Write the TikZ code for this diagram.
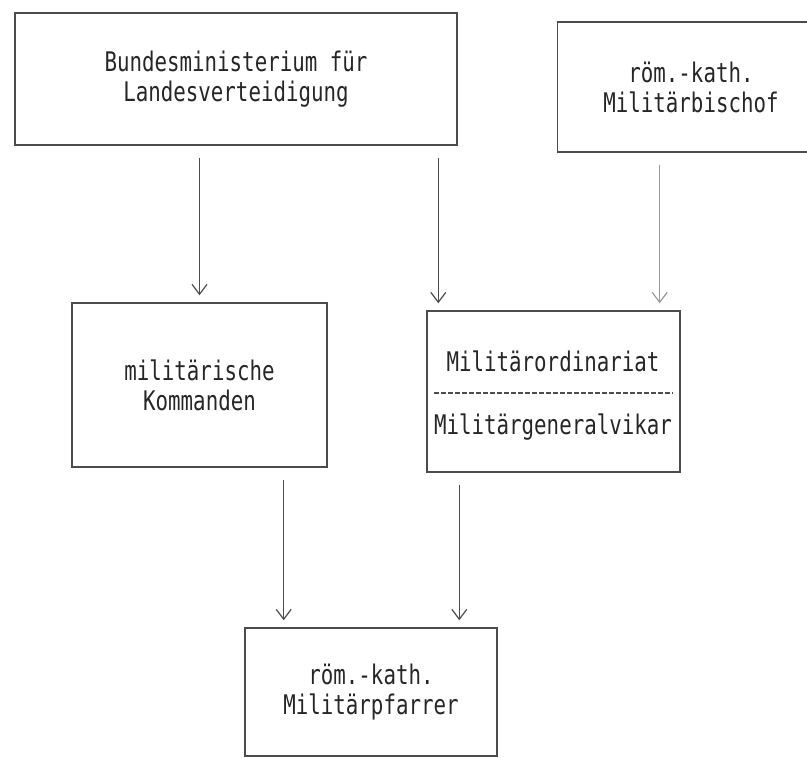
\documentclass[tikz,border=0pt]{standalone}
\usepackage{fontspec}
\setmonofont[FakeStretch=0.77]{DejaVu Sans Mono}
\usetikzlibrary{arrows.meta}

\tikzset{
    kasten/.style={draw=black!70, line width=1.4pt, rectangle, inner sep=0pt,
        align=center, font=\ttfamily\fontsize{27}{30}\selectfont, text=black!85},
    pfeil/.style={draw=black!70, line width=1.3pt,
        -{Straight Barb[length=10pt,width=15pt,line width=1.2pt]},
        shorten <=12pt, shorten >=7pt},
    blass/.style={draw=black!40, line width=1pt}
}

\begin{document}
\begin{tikzpicture}[x=1pt, y=-1pt]
        \useasboundingbox (0, 0) rectangle (807, 758);

        \node[kasten, minimum width=442, minimum height=132] (bmlv) at (236, 79)
            {Bundesministerium für\\Landesverteidigung};
        \node[kasten, minimum width=267, minimum height=130] (bis) at (691, 87)
            {röm.-kath.\\Militärbischof};
        \node[kasten, minimum width=255, minimum height=164] (kdo) at (199.5, 385)
            {militärische\\Kommanden};
        \node[kasten, minimum width=253, minimum height=161] (ord) at (553.5, 391.5) {};
        \node[kasten, minimum width=252, minimum height=128] (pf) at (371, 692)
            {röm.-kath.\\Militärpfarrer};

        % zweigeteilter Kasten
        \node[kasten, draw=none, anchor=base] (ordA) at (553, 371) {Militärordinariat};
        \node[kasten, draw=none, anchor=base] (ordB) at (553, 434) {Militärgeneralvikar};
        \draw[black!70, line width=1.2pt, dash pattern=on 5pt off 2pt]
            ([xshift=8]ord.west |- 0, 393) -- ([xshift=-8]ord.east |- 0, 393);

        \draw[pfeil] (bmlv.south -| kdo.north) -- (kdo.north);
        \draw[pfeil] ([xshift=12]ord.north west |- bmlv.south) -- ([xshift=12]ord.north west);
        \draw[pfeil, blass] ([xshift=-21]ord.north east |- bis.south) -- ([xshift=-21]ord.north east);
        \draw[pfeil] ([xshift=-44]kdo.south east) -- ([xshift=-44]kdo.south east |- pf.north);
        \draw[pfeil] ([xshift=33]ord.south west) -- ([xshift=33]ord.south west |- pf.north);
    \end{tikzpicture}
\end{document}
